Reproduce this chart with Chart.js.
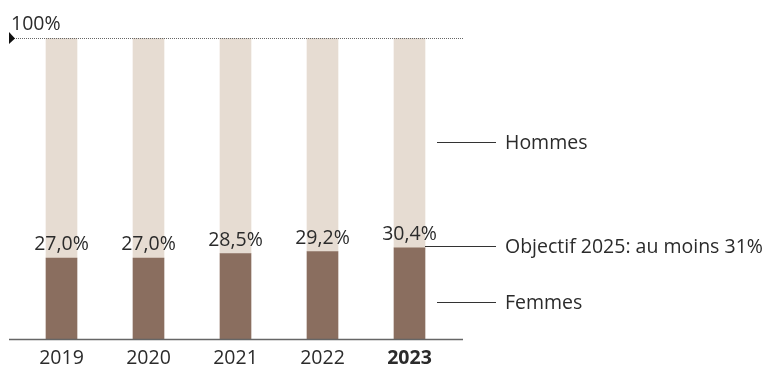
<!DOCTYPE html>
<html>
<head>
<meta charset="utf-8">
<script src="https://cdn.jsdelivr.net/npm/chart.js@4"></script>
<style>
  html, body { margin: 0; padding: 0; background: #fff; overflow: hidden; }
  #wrap { width: 766px; height: 377px; }
</style>
</head>
<body>
<div id="wrap"><canvas id="myChart"></canvas></div>
<script>
const years = ['2019', '2020', '2021', '2022', '2023'];
const femmes = [27.0, 27.0, 28.5, 29.2, 30.4];
const hommes = femmes.map(v => +(100 - v).toFixed(1));
const objectif = 31;

const FONT = '"Open Sans", "Noto Sans", sans-serif';
const TEXT = '#2b2b2b';

const fmt = v => v.toFixed(1).replace('.', ',') + '%';

// value labels, 100% line, baseline and the side legend
const extras = {
  id: 'extras',
  afterDatasetsDraw(chart) {
    const c = chart.ctx;
    const y = chart.scales.y;
    const area = chart.chartArea;
    const bars = chart.getDatasetMeta(0).data;

    c.save();
    c.font = '19.5px ' + FONT;
    c.fillStyle = TEXT;
    c.textAlign = 'center';
    c.textBaseline = 'alphabetic';
    bars.forEach((b, i) => c.fillText(fmt(femmes[i]), b.x, b.y - 8));

    // top reference line
    const y100 = Math.round(y.getPixelForValue(100));
    c.strokeStyle = '#666';
    c.lineWidth = 1;
    c.setLineDash([1, 1]);
    c.beginPath();
    c.moveTo(14, y100 + 0.5);
    c.lineTo(area.right + 10, y100 + 0.5);
    c.stroke();
    c.setLineDash([]);
    c.fillStyle = '#111';
    c.beginPath();
    c.moveTo(9, y100 - 6);
    c.lineTo(15, y100 + 0.5);
    c.lineTo(9, y100 + 6);
    c.closePath();
    c.fill();
    c.fillStyle = TEXT;
    c.textAlign = 'left';
    c.font = '19.5px ' + FONT;
    c.fillText('100%', 11, y100 - 8);

    // baseline
    const y0 = y.getPixelForValue(0);
    c.strokeStyle = '#666';
    c.lineWidth = 1.5;
    c.beginPath();
    c.moveTo(9, y0);
    c.lineTo(area.right + 10, y0);
    c.stroke();

    // side legend
    const last = bars[bars.length - 1];
    const barRight = last.x + last.width / 2;
    c.lineWidth = 1;
    c.strokeStyle = '#333';
    c.textBaseline = 'middle';
    const side = [
      { text: 'Hommes', v: 65.5, x0: 437 },
      { text: 'Objectif 2025: au moins ' + objectif + '%', v: objectif, x0: barRight },
      { text: 'Femmes', v: 12.5, x0: 437 }
    ];
    side.forEach(s => {
      const py = Math.round(y.getPixelForValue(s.v)) + 0.5;
      c.beginPath();
      c.moveTo(s.x0, py);
      c.lineTo(496, py);
      c.stroke();
      c.fillText(s.text, 505, py + 1);
    });
    c.restore();
  }
};

new Chart(document.getElementById('myChart'), {
  type: 'bar',
  data: {
    labels: years,
    datasets: [
      { label: 'Femmes', data: femmes, backgroundColor: '#8a6e5f', barThickness: 31 },
      { label: 'Hommes', data: hommes, backgroundColor: '#e6dcd2', barThickness: 31 }
    ]
  },
  options: {
    responsive: true,
    maintainAspectRatio: false,
    animation: false,
    layout: { padding: { left: 18, right: 313, top: 38, bottom: 0 } },
    plugins: { legend: { display: false }, tooltip: { enabled: false } },
    scales: {
      x: {
        stacked: true,
        grid: { display: false, drawTicks: false },
        border: { display: false },
        ticks: {
          color: TEXT,
          padding: 7,
          font: c => ({ family: FONT, size: 19.5, weight: c.index === 4 ? 'bold' : 'normal' })
        }
      },
      y: {
        stacked: true,
        display: false,
        min: 0,
        max: 100
      }
    }
  },
  plugins: [extras]
});
</script>
</body>
</html>
